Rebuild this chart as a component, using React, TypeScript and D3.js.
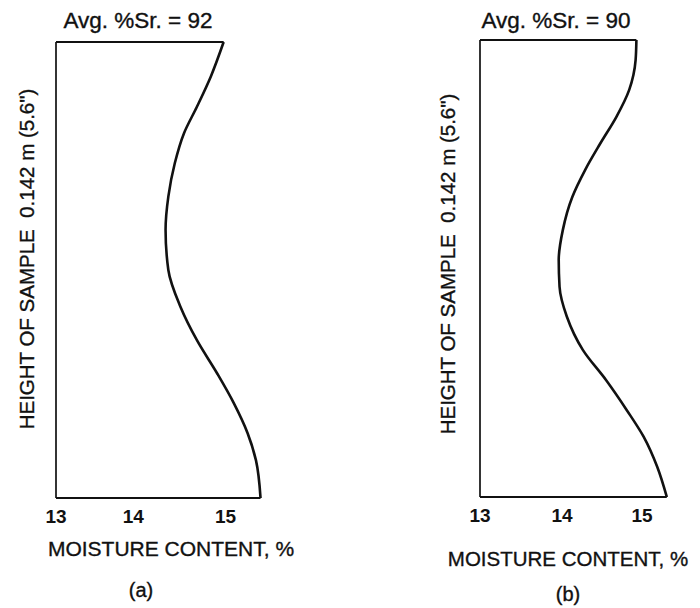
import React from "react";
import * as d3 from "d3";

// ---- data ----
const tickValues = [13, 14, 15];

// Panel (a): normalized sample height (0 = bottom, 1 = top) vs moisture content (%)
const heightA = [1.0, 0.924, 0.858, 0.8, 0.734, 0.661, 0.588, 0.5, 0.42, 0.346, 0.273, 0.208, 0.142, 0.083, 0.0];
const moistureA = [14.98, 14.84, 14.69, 14.55, 14.45, 14.38, 14.35, 14.38, 14.51, 14.69, 14.91, 15.09, 15.24, 15.33, 15.38];

// Panel (b)
const heightB = [1.0, 0.956, 0.891, 0.832, 0.774, 0.716, 0.657, 0.584, 0.519, 0.46, 0.395, 0.322, 0.256, 0.19, 0.132, 0.066, 0.0];
const moistureB = [14.93, 14.92, 14.84, 14.68, 14.48, 14.29, 14.13, 14.01, 13.96, 13.97, 14.06, 14.26, 14.55, 14.81, 15.02, 15.19, 15.31];

const titles = ["Avg. %Sr. = 92", "Avg. %Sr. = 90"];
const panelTags = ["(a)", "(b)"];
const xLabel = "MOISTURE CONTENT, %";
const yLabel = "HEIGHT OF SAMPLE  0.142 m (5.6\")";

const FONT = "'Liberation Sans', Arial, Helvetica, sans-serif";
const INK = "#111";

type PanelCfg = {
  heights: number[];
  moisture: number[];
  title: string;
  tag: string;
  xRange: number[];
  yRange: [number, number];
  titleX: number;
  yLabelX: number;
  yLabelY: number;
  xLabelX: number;
  xLabelY: number;
  tickY: number;
  tagX: number;
  tagY: number;
  xLabelSize: number;
};

const panels: PanelCfg[] = [
  {
    heights: heightA,
    moisture: moistureA,
    title: titles[0],
    tag: panelTags[0],
    xRange: [56, 133.3, 225.5],
    yRange: [498, 42],
    titleX: 138,
    yLabelX: 34,
    yLabelY: 259,
    xLabelX: 171,
    xLabelY: 556,
    tickY: 523,
    tagX: 141,
    tagY: 597,
    xLabelSize: 21,
  },
  {
    heights: heightB,
    moisture: moistureB,
    title: titles[1],
    tag: panelTags[1],
    xRange: [480, 562, 642],
    yRange: [497, 40],
    titleX: 556,
    yLabelX: 455,
    yLabelY: 264,
    xLabelX: 568,
    xLabelY: 566,
    tickY: 522,
    tagX: 568,
    tagY: 601,
    xLabelSize: 20.5,
  },
];

const textStroke = { stroke: INK, strokeWidth: 0.35 };

function Panel({ cfg }: { cfg: PanelCfg }) {
  const x = d3.scaleLinear().domain(tickValues).range(cfg.xRange);
  const y = d3.scaleLinear().domain([0, 1]).range(cfg.yRange);
  const pts: [number, number][] = cfg.heights.map((h, i) => [cfg.moisture[i], h]);
  const line = d3
    .line<[number, number]>()
    .x((d) => x(d[0]))
    .y((d) => y(d[1]))
    .curve(d3.curveMonotoneY);
  const top = pts[0];
  const bottom = pts[pts.length - 1];
  const left = x(tickValues[0]);
  return (
    <g>
      <text x={cfg.titleX} y={28} fontSize={22.5} textAnchor="middle" fontFamily={FONT} fill={INK} {...textStroke}>
        {cfg.title}
      </text>
      {/* frame */}
      <line x1={left} y1={y(1)} x2={left} y2={y(0)} stroke={INK} strokeWidth={1.7} />
      <line x1={left} y1={y(1)} x2={x(top[0])} y2={y(1)} stroke={INK} strokeWidth={2.2} />
      <line x1={left} y1={y(0)} x2={x(bottom[0])} y2={y(0)} stroke={INK} strokeWidth={2.2} />
      <path d={line(pts) || ""} fill="none" stroke={INK} strokeWidth={2.6} strokeLinejoin="round" />
      {tickValues.map((t) => (
        <text
          key={t}
          x={x(t)}
          y={cfg.tickY}
          fontSize={19}
          fontWeight="bold"
          textAnchor="middle"
          fontFamily={FONT}
          fill={INK}
        >
          {t}
        </text>
      ))}
      <text
        x={cfg.xLabelX}
        y={cfg.xLabelY}
        fontSize={cfg.xLabelSize}
        textAnchor="middle"
        fontFamily={FONT}
        fill={INK}
        {...textStroke}
      >
        {xLabel}
      </text>
      <text
        transform={`translate(${cfg.yLabelX},${cfg.yLabelY}) rotate(-90)`}
        fontSize={20.5}
        textAnchor="middle"
        fontFamily={FONT}
        fill={INK}
        {...textStroke}
        style={{ whiteSpace: "pre" }}
      >
        {yLabel}
      </text>
      <text x={cfg.tagX} y={cfg.tagY} fontSize={20} textAnchor="middle" fontFamily={FONT} fill={INK} {...textStroke}>
        {cfg.tag}
      </text>
    </g>
  );
}

export default function App() {
  return (
    <svg
      width={700}
      height={608}
      viewBox="0 0 700 608"
      style={{ position: "absolute", left: 0, top: 0, background: "#fff" }}
    >
      <rect x={0} y={0} width={700} height={608} fill="#fff" />
      {panels.map((p, i) => (
        <Panel key={i} cfg={p} />
      ))}
    </svg>
  );
}
